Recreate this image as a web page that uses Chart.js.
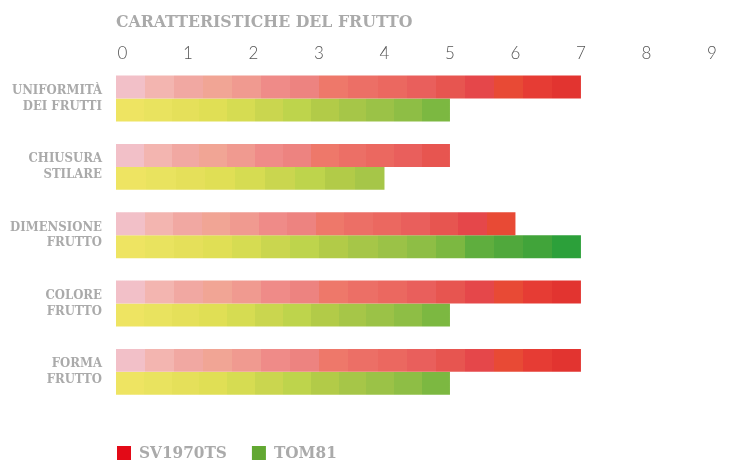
<!DOCTYPE html>
<html>
<head>
<meta charset="utf-8">
<script src="https://cdn.jsdelivr.net/npm/chart.js@4"></script>
<style>
  html, body { margin: 0; padding: 0; background: #fff; }
  #wrap { width: 730px; height: 461px; }
</style>
</head>
<body>
<div id="wrap"><canvas id="fruitChart"></canvas></div>
<script>
const categories = [
  ["UNIFORMITÀ", "DEI FRUTTI"],
  ["CHIUSURA", "STILARE"],
  ["DIMENSIONE", "FRUTTO"],
  ["COLORE", "FRUTTO"],
  ["FORMA", "FRUTTO"]
];
const sv1970ts = [7, 5, 6, 7, 7];
const tom81 = [5, 4, 7, 5, 5];
const tickValues = [0, 1, 2, 3, 4, 5, 6, 7, 8, 9];

// stepped colours, one per block along the bar
const redSteps = ["#f2c0c8", "#f3b5b0", "#f1a8a2", "#f1a595", "#f09a90", "#ef8b88", "#ed8380", "#ee786a",
  "#ec6f66", "#eb6860", "#e95f5c", "#e75550", "#e5474a", "#e84a35", "#e63c34", "#e23430"];
const greenSteps = ["#eee462", "#e9e35f", "#e5e05a", "#e0df55", "#d6dc52", "#cad64f", "#bed44c", "#b2cb48",
  "#a6c648", "#9bc247", "#8ebe45", "#7cb841", "#5fae3e", "#50a83c", "#41a43a", "#2ca03a"];

const BAR_BASE = -0.1;
const BLOCK_PX = 28.5;
const GREY = "#aaaaaa";
const SLAB = "'DejaVu Serif Condensed', 'DejaVu Serif', serif";

function steppedFill(steps) {
  return (ctx) => {
    const chart = ctx.chart;
    const x = chart.scales.x;
    if (!chart.chartArea || !x || ctx.type !== "data") return steps[0];
    const start = x.getPixelForValue(BAR_BASE);
    const end = x.getPixelForValue(ctx.raw);
    const n = Math.max(1, Math.round((end - start) / BLOCK_PX));
    const g = chart.ctx.createLinearGradient(start, 0, end, 0);
    for (let i = 0; i < n; i++) {
      const c = steps[Math.min(i, steps.length - 1)];
      g.addColorStop(i / n, c);
      g.addColorStop((i + 1) / n, c);
    }
    return g;
  };
}

// legend drawn by hand so it lines up with the bars
const legendSwatches = ["#e30a17", "#62a832"];
const blockLegend = {
  id: "blockLegend",
  afterDraw(chart) {
    const c = chart.ctx;
    const y = 453;
    let x = chart.chartArea.left + 1;
    c.save();
    c.font = "bold 17px " + SLAB;
    c.textBaseline = "middle";
    chart.data.datasets.forEach((ds, i) => {
      c.fillStyle = legendSwatches[i];
      c.fillRect(x, y - 7, 14, 14);
      c.fillStyle = GREY;
      c.fillText(ds.label, x + 22, y + 1);
      x += 22 + c.measureText(ds.label).width + 25;
    });
    c.restore();
  }
};

new Chart(document.getElementById("fruitChart"), {
  type: "bar",
  data: {
    labels: categories,
    datasets: [
      { label: "SV1970TS", data: sv1970ts, backgroundColor: steppedFill(redSteps) },
      { label: "TOM81", data: tom81, backgroundColor: steppedFill(greenSteps) }
    ]
  },
  options: {
    indexAxis: "y",
    responsive: true,
    maintainAspectRatio: false,
    animation: false,
    base: BAR_BASE,
    categoryPercentage: 0.672,
    barPercentage: 1,
    layout: { padding: { left: 0, right: 5, top: 0, bottom: 55 } },
    plugins: {
      legend: { display: false },
      tooltip: { enabled: false },
      title: {
        display: true,
        text: "CARATTERISTICHE DEL FRUTTO",
        align: "start",
        fullSize: false,
        color: GREY,
        font: { family: SLAB, size: 17.5, weight: "bold" },
        padding: { top: 12, bottom: 9 }
      }
    },
    scales: {
      x: {
        position: "top",
        min: BAR_BASE,
        max: 9.2,
        afterBuildTicks: (scale) => { scale.ticks = tickValues.map(v => ({ value: v })); },
        grid: { display: false, drawTicks: false },
        border: { display: false },
        ticks: {
          color: "#555555",
          font: { family: "Lato", size: 17, weight: 300 },
          padding: 1
        }
      },
      y: {
        grid: { display: false, drawTicks: false },
        border: { display: false },
        afterFit: (scale) => { scale.width = 116; },
        ticks: {
          color: GREY,
          padding: 14,
          font: { family: SLAB, size: 13, weight: "bold", lineHeight: 1.2 }
        }
      }
    }
  },
  plugins: [blockLegend]
});
</script>
</body>
</html>
